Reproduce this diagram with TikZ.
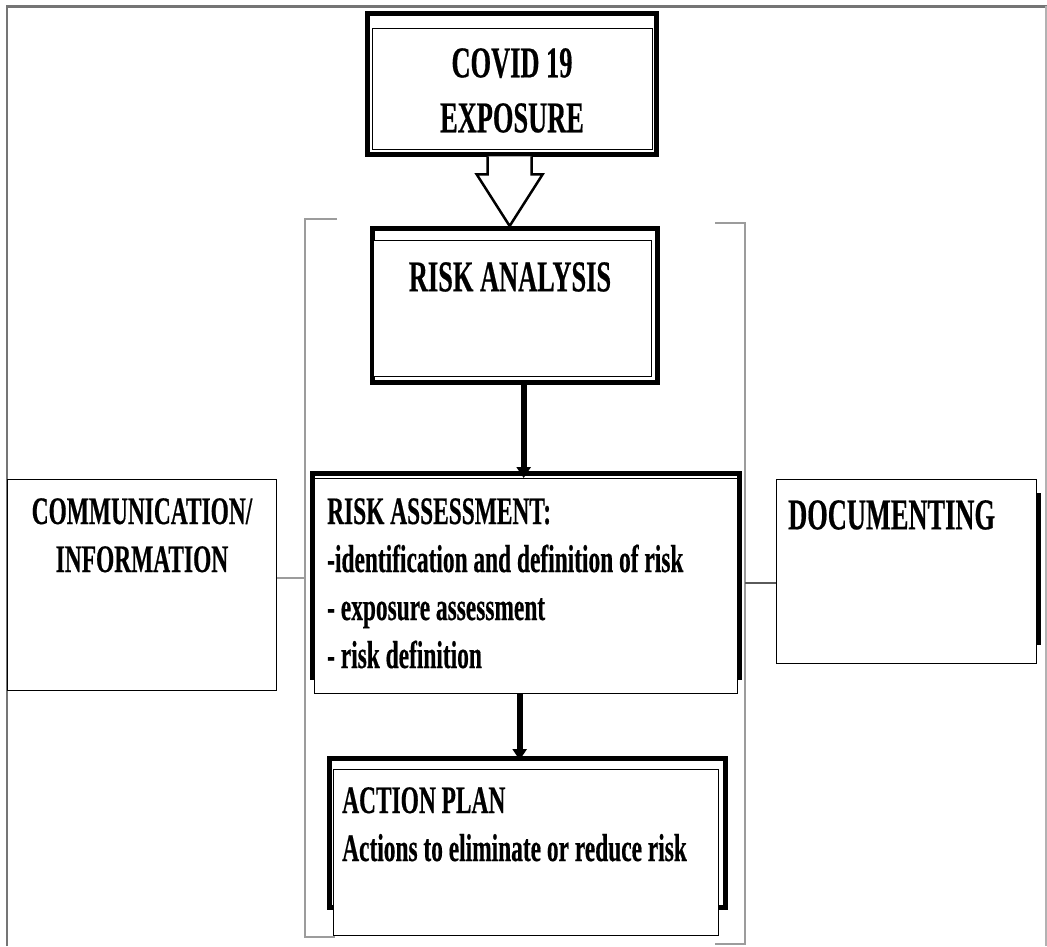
\documentclass[tikz,border=0pt]{standalone}
\usepackage{fontspec}
\newfontfamily\boxfont[FakeStretch=0.6,FakeBold=0.4]{Liberation Serif}
\usetikzlibrary{arrows.meta,calc}
\definecolor{framegray}{HTML}{757575}
\definecolor{brackgray}{HTML}{9C9C9C}
\definecolor{linkgray}{HTML}{5A5A5A}
\tikzset{
  box/.style={draw=black, line width=1.3pt, fill=white, inner sep=0pt, anchor=north west},
  frame/.style={draw=black, line width=5pt},
  txt/.style={inner sep=0pt, align=left, font=\boxfont\bfseries\fontsize{39}{48}\selectfont},
  bigtxt/.style={inner sep=0pt, align=center, font=\boxfont\bfseries\fontsize{44}{55}\selectfont},
  flow/.style={line width=6pt, -{Triangle[width=14pt,length=11pt]}},
  blockarrow/.style={draw=black, fill=white, line width=2.5pt, line join=miter},
  link/.style={draw=brackgray, line width=1.8pt},
}
\begin{document}
\begin{tikzpicture}[x=1pt,y=-1pt]
\useasboundingbox (0,0) rectangle (1047,946);
% page frame
\draw[framegray, line width=2pt] (7,946) -- (7,6);
\draw[framegray, line width=3pt] (6,6) -- (1047,6);
\draw[gray!60, line width=1.2pt] (1046,6) -- (1046,946);

% brackets
\draw[link] (337,219) -- (305,219) -- (305,937) -- (335,937);
\draw[link] (715,223) -- (745,223) -- (745,944) -- (715,944);
\coordinate (leftlink) at (305,578);
\coordinate (rightlink) at (745,583);

% exposure
\draw[frame] (367,13) rectangle (656,154);
\node[box, minimum width=280pt, minimum height=121pt] (covid) at (372,28) {};
\node[bigtxt, anchor=north] (covidtxt) at (512,48) {COVID 19\\EXPOSURE};

% analysis
\draw[frame] (372,228) rectangle (657,382);
\node[box, minimum width=278pt, minimum height=136pt] (analysis) at (373,240) {};
\node[bigtxt, anchor=north] (analysistxt) at (510,262) {RISK ANALYSIS};

% assessment
\draw[frame] (312,473) rectangle (739,677);
\node[box, minimum width=423pt, minimum height=215pt] (assess) at (314,478) {};
\node[txt, anchor=north west] (assesstxt) at (327,498) {RISK ASSESSMENT:\\-identification and definition of risk\\- exposure assessment\\- risk definition};

% action plan
\draw[frame] (329,758) rectangle (725,907);
\node[box, minimum width=385pt, minimum height=166pt] (action) at (333,769) {};
\node[txt, anchor=north west] (actiontxt) at (342,787) {ACTION PLAN\\Actions to eliminate or reduce risk};

% side boxes
\node[box, minimum width=269pt, minimum height=211pt] (comm) at (7,479) {};
\node[txt, align=center, anchor=north] (commtxt) at (142,498) {COMMUNICATION/\\INFORMATION};
\draw[frame] (1038,493) -- (1038,645);
\node[box, minimum width=260pt, minimum height=184pt] (docu) at (776,479) {};
\node[txt, font=\boxfont\bfseries\fontsize{44}{48}\selectfont, anchor=north west] (docutxt) at (788,500) {DOCUMENTING};

% arrows
\draw[blockarrow] ($(covid.south)+(-25,6)$) -- ++(0,18) -- ++(-11,0) -- ($(analysis.north)+(-3,-14)$)
  -- ($(covid.south)+(30,24)$) -- ++(-11,0) -- ++(0,-18);
\draw[flow] ($(analysis.south)+(11,6)$) -- ($(assess.north)+(-2.5,0)$);
\draw[flow] ($(assess.south)+(-6.5,0)$) -- ($(action.north)+(-6.5,-9)$);

% links
\draw[link] (comm.east |- leftlink) -- (leftlink);
\draw[draw=linkgray, line width=1.2pt] (rightlink) -- (docu.west |- rightlink);
\end{tikzpicture}
\end{document}
